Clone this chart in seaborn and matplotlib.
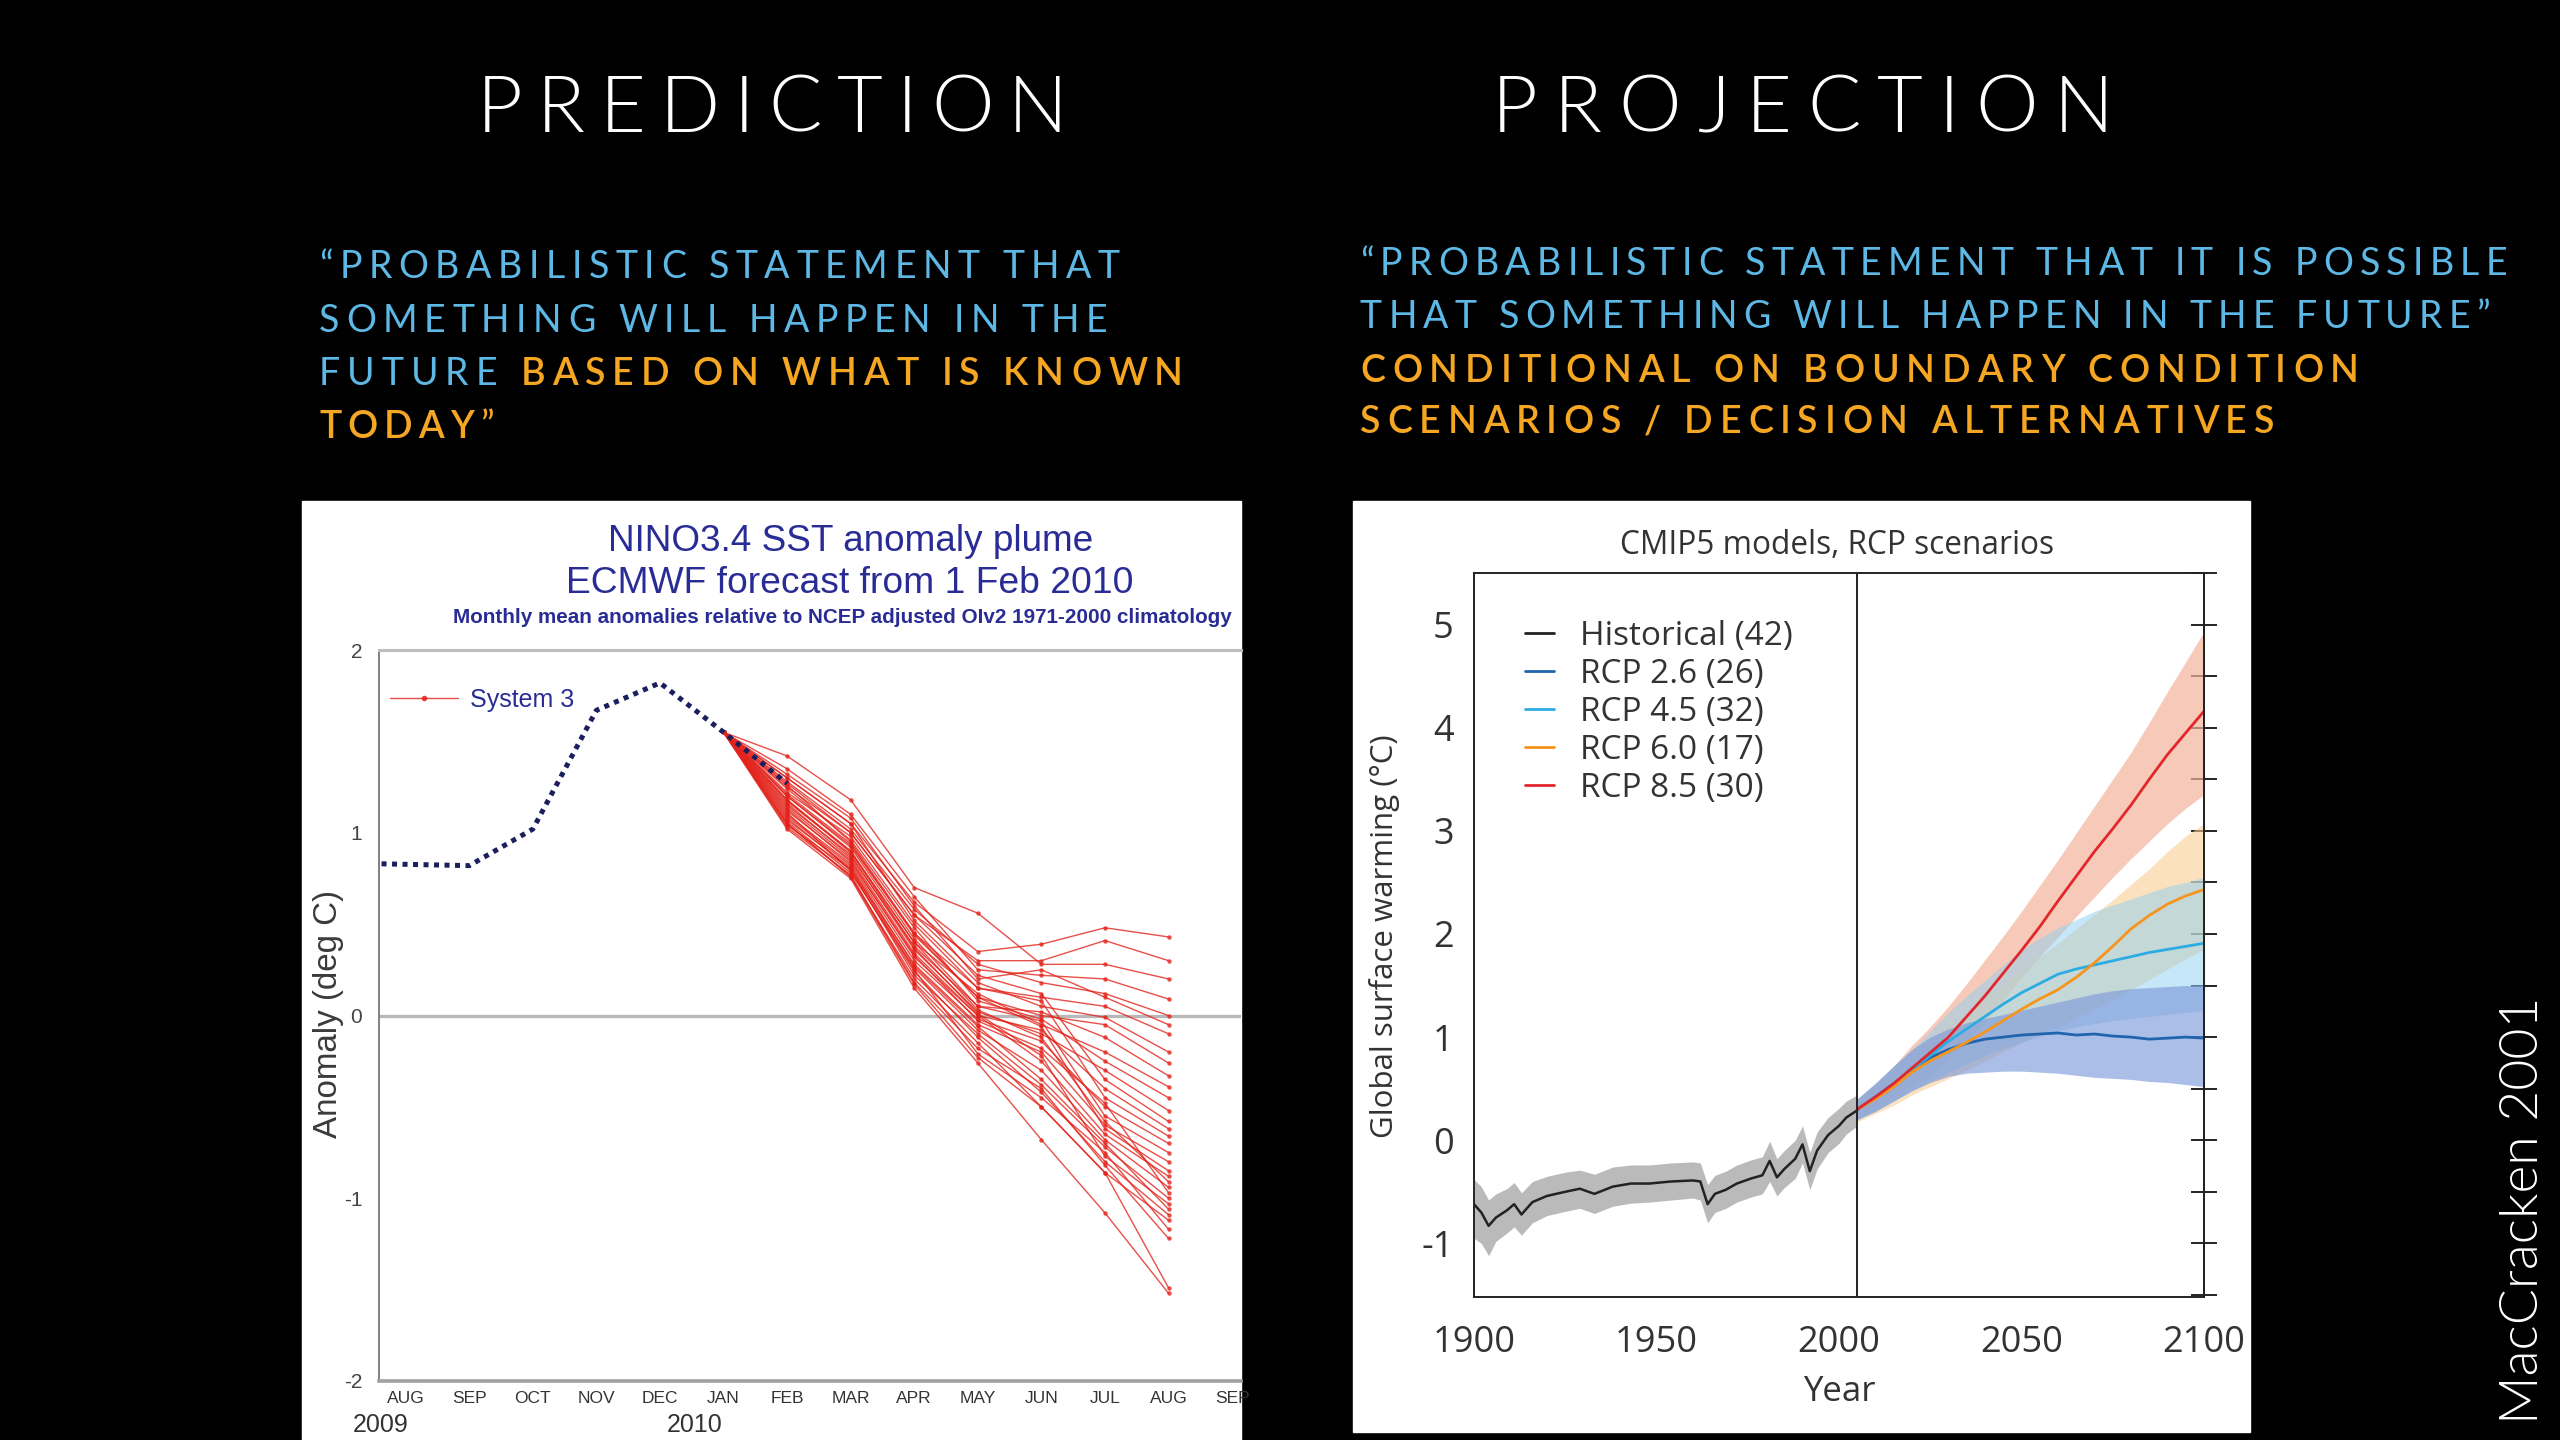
import matplotlib
matplotlib.use('Agg')
import matplotlib.pyplot as plt
from matplotlib.font_manager import FontProperties
from matplotlib.patches import Rectangle
from matplotlib.lines import Line2D
from matplotlib.ticker import MultipleLocator, FixedLocator
import seaborn as sns
import pandas as pd

sns.set_style("white")
plt.rcParams['font.family'] = ['Liberation Sans', 'DejaVu Sans']

# ---------------- data: left panel (ECMWF NINO3.4 plume) ----------------
months = ['AUG', 'SEP', 'OCT', 'NOV', 'DEC', 'JAN', 'FEB', 'MAR', 'APR',
          'MAY', 'JUN', 'JUL', 'AUG', 'SEP']
years_lab = ['2009', '2010']
years_pos = [-0.4, 4.55]

obs_month = [-0.38, 1, 2, 3, 4, 5, 6]
obs_anom = [0.83, 0.82, 1.02, 1.67, 1.82, 1.55, 1.27]

fc_month = [5, 6, 7, 8, 9, 10, 11, 12]
fc_start = 1.55
# ensemble members: FEB .. AUG 2010
members = [
    [1.30, 1.05, 0.62, 0.35, 0.39, 0.48, 0.43],
    [1.25, 1.00, 0.55, 0.30, 0.30, 0.41, 0.30],
    [1.42, 1.18, 0.70, 0.56, 0.28, 0.28, 0.20],
    [1.35, 1.10, 0.65, 0.25, 0.22, 0.20, 0.09],
    [1.28, 1.02, 0.58, 0.28, 0.18, 0.12, 0.00],
    [1.32, 1.08, 0.60, 0.20, 0.25, 0.10, -0.05],
    [1.22, 0.98, 0.50, 0.15, 0.10, 0.05, -0.10],
    [1.30, 1.05, 0.52, 0.18, 0.05, -0.01, -0.20],
    [1.26, 0.95, 0.45, 0.10, 0.00, -0.05, -0.26],
    [1.20, 0.92, 0.42, 0.05, 0.02, -0.12, -0.33],
    [1.18, 0.90, 0.40, 0.12, -0.05, -0.20, -0.39],
    [1.24, 0.96, 0.48, 0.08, -0.02, -0.25, -0.45],
    [1.15, 0.88, 0.36, 0.02, -0.10, -0.30, -0.52],
    [1.27, 1.00, 0.55, 0.22, 0.12, -0.35, -0.58],
    [1.12, 0.85, 0.32, 0.00, -0.08, -0.40, -0.62],
    [1.20, 0.93, 0.45, 0.15, 0.08, -0.45, -0.66],
    [1.10, 0.83, 0.30, -0.02, -0.14, -0.50, -0.70],
    [1.16, 0.87, 0.38, 0.05, -0.03, -0.55, -0.75],
    [1.08, 0.80, 0.28, -0.05, -0.20, -0.60, -0.80],
    [1.21, 0.94, 0.44, 0.10, -0.06, -0.62, -0.85],
    [1.14, 0.86, 0.34, 0.00, -0.25, -0.65, -0.88],
    [1.18, 0.89, 0.40, 0.03, -0.12, -0.58, -0.91],
    [1.06, 0.78, 0.26, -0.08, -0.30, -0.68, -0.94],
    [1.13, 0.84, 0.33, -0.03, -0.18, -0.48, -0.97],
    [1.04, 0.80, 0.22, -0.10, -0.38, -0.72, -1.00],
    [1.17, 0.90, 0.37, 0.01, -0.22, -0.77, -1.03],
    [1.09, 0.82, 0.27, -0.06, -0.35, -0.70, -1.06],
    [1.11, 0.79, 0.24, -0.12, -0.42, -0.80, -1.09],
    [1.05, 0.76, 0.20, -0.15, -0.50, -0.86, -1.12],
    [1.07, 0.81, 0.25, -0.21, -0.45, -0.75, -1.17],
    [1.03, 0.77, 0.18, -0.18, -0.40, -0.82, -1.22],
    [1.02, 0.75, 0.15, -0.26, -0.68, -1.08, -1.52],
    [1.05, 0.76, 0.17, -0.23, -0.50, -0.86, -1.49],
]

# ---------------- data: right panel (CMIP5 RCP) ----------------
hist_years = [1900, 1902, 1904, 1906, 1909, 1911, 1913, 1916, 1920, 1925, 1929, 1933,
              1938, 1943, 1948, 1954, 1960, 1962, 1964, 1966, 1969, 1972, 1976, 1979,
              1981, 1983, 1985, 1988, 1990, 1992, 1994, 1997, 2000, 2002, 2005]
hist_mean = [-0.62, -0.70, -0.83, -0.75, -0.68, -0.62, -0.72, -0.60, -0.54, -0.50, -0.47, -0.52,
             -0.45, -0.42, -0.42, -0.40, -0.39, -0.40, -0.62, -0.52, -0.48, -0.42, -0.37, -0.34,
             -0.20, -0.36, -0.28, -0.18, -0.04, -0.30, -0.10, 0.05, 0.14, 0.22, 0.29]
hist_lo = [-0.95, -1.00, -1.12, -0.98, -0.90, -0.84, -0.92, -0.80, -0.73, -0.69, -0.66, -0.71,
           -0.64, -0.61, -0.60, -0.58, -0.56, -0.58, -0.80, -0.70, -0.66, -0.60, -0.55, -0.52,
           -0.40, -0.54, -0.46, -0.37, -0.22, -0.48, -0.28, -0.12, -0.03, 0.06, 0.14]
hist_hi = [-0.38, -0.45, -0.58, -0.52, -0.47, -0.41, -0.51, -0.40, -0.35, -0.31, -0.29, -0.33,
           -0.26, -0.24, -0.24, -0.22, -0.21, -0.22, -0.43, -0.34, -0.30, -0.24, -0.19, -0.16,
           -0.01, -0.18, -0.10, 0.00, 0.14, -0.12, 0.08, 0.22, 0.31, 0.38, 0.44]

proj_years = [2005, 2010, 2015, 2020, 2025, 2030, 2035, 2040, 2045, 2050,
              2055, 2060, 2065, 2070, 2075, 2080, 2085, 2090, 2095, 2100]
rcp26 = [0.30, 0.42, 0.55, 0.68, 0.80, 0.88, 0.94, 0.98, 1.00, 1.02, 1.03, 1.04, 1.02, 1.03, 1.01, 1.00, 0.98, 0.99, 1.00, 0.99]
rcp26_lo = [0.20, 0.28, 0.38, 0.48, 0.56, 0.62, 0.65, 0.66, 0.67, 0.67, 0.66, 0.65, 0.63, 0.61, 0.60, 0.59, 0.57, 0.56, 0.54, 0.52]
rcp26_hi = [0.40, 0.55, 0.72, 0.88, 1.00, 1.08, 1.14, 1.18, 1.22, 1.26, 1.30, 1.34, 1.38, 1.42, 1.45, 1.47, 1.48, 1.49, 1.50, 1.50]
rcp45 = [0.30, 0.42, 0.55, 0.68, 0.82, 0.96, 1.08, 1.20, 1.32, 1.43, 1.52, 1.61, 1.66, 1.70, 1.74, 1.78, 1.82, 1.85, 1.88, 1.91]
rcp45_lo = [0.20, 0.28, 0.38, 0.48, 0.57, 0.66, 0.74, 0.82, 0.89, 0.95, 1.01, 1.06, 1.10, 1.13, 1.16, 1.18, 1.20, 1.22, 1.24, 1.26]
rcp45_hi = [0.40, 0.56, 0.72, 0.88, 1.06, 1.24, 1.40, 1.55, 1.70, 1.85, 1.96, 2.06, 2.14, 2.22, 2.28, 2.34, 2.40, 2.46, 2.50, 2.55]
rcp60 = [0.30, 0.40, 0.52, 0.66, 0.77, 0.86, 0.95, 1.05, 1.16, 1.27, 1.37, 1.46, 1.58, 1.72, 1.88, 2.05, 2.18, 2.29, 2.37, 2.43]
rcp60_lo = [0.18, 0.26, 0.34, 0.44, 0.52, 0.60, 0.68, 0.77, 0.86, 0.95, 1.03, 1.10, 1.18, 1.27, 1.36, 1.46, 1.56, 1.66, 1.76, 1.85]
rcp60_hi = [0.40, 0.54, 0.68, 0.84, 0.98, 1.11, 1.24, 1.37, 1.51, 1.65, 1.78, 1.91, 2.05, 2.19, 2.33, 2.48, 2.63, 2.80, 2.95, 3.07]
rcp85 = [0.30, 0.42, 0.55, 0.70, 0.85, 1.00, 1.20, 1.40, 1.62, 1.84, 2.07, 2.32, 2.56, 2.80, 3.02, 3.25, 3.50, 3.74, 3.95, 4.16]
rcp85_lo = [0.20, 0.30, 0.40, 0.52, 0.63, 0.80, 0.97, 1.15, 1.36, 1.58, 1.78, 1.97, 2.17, 2.36, 2.55, 2.73, 2.90, 3.07, 3.22, 3.35]
rcp85_hi = [0.40, 0.55, 0.72, 0.92, 1.10, 1.30, 1.52, 1.75, 1.98, 2.22, 2.47, 2.72, 2.98, 3.24, 3.50, 3.76, 4.05, 4.35, 4.64, 4.93]

legend_labels = ['Historical (42)', 'RCP 2.6 (26)', 'RCP 4.5 (32)', 'RCP 6.0 (17)', 'RCP 8.5 (30)']

# ---------------- figure / helpers ----------------
W, H = 2560, 1440
fig = plt.figure(figsize=(25.6, 14.4), dpi=100, facecolor='black')
renderer = fig.canvas.get_renderer()


def fprop(family, weight='normal', size=20):
    return FontProperties(family=family, weight=weight, size=size)


def text_width(s, fp):
    a = renderer.get_text_width_height_descent('|' + s + '|', fp, ismath=False)[0]
    b = renderer.get_text_width_height_descent('||', fp, ismath=False)[0]
    return a - b


def fit_size(s, fp, target):
    f = fp.copy()
    f.set_size(20)
    return 20 * target / text_width(s, f)


def tracked(x, y, segments, target):
    # draw a line of letter-spaced text made of (string, colour, font) pieces
    nat = sum(text_width(s, fp) for s, c, fp in segments)
    n = sum(len(s) for s, c, fp in segments)
    track = (target - nat) / max(n - 1, 1)
    cur = x
    for s, c, fp in segments:
        for i, ch in enumerate(s):
            cx = cur + text_width(s[:i], fp) + i * track
            fig.text(cx / W, 1 - y / H, ch, fontproperties=fp, color=c,
                     ha='left', va='baseline')
        cur += text_width(s, fp) + len(s) * track


def px_rect(x0, y0, x1, y1):
    return [x0 / W, 1 - y1 / H, (x1 - x0) / W, (y1 - y0) / H]


# ---------------- slide text ----------------
title_fp = fprop('Lato', 300, 57)
blue_fp = fprop('Lato', 'normal', 27)
bold_fp = fprop('Lato', 600, 27)
BLUE, ORANGE = '#5db8e6', '#f5a623'

tracked(477, 132, [('PREDICTION', 'white', title_fp)], 591)
tracked(1492, 132, [('PROJECTION', 'white', title_fp)], 622)

tracked(319, 278, [('“PROBABILISTIC STATEMENT THAT', BLUE, blue_fp)], 801)
tracked(319, 332, [('SOMETHING WILL HAPPEN IN THE', BLUE, blue_fp)], 788)
tracked(319, 385, [('FUTURE ', BLUE, blue_fp), ('BASED ON WHAT IS KNOWN', ORANGE, bold_fp)], 864)
tracked(319, 438, [('TODAY', ORANGE, bold_fp), ('”', ORANGE, blue_fp)], 175)

tracked(1360, 275, [('“PROBABILISTIC STATEMENT THAT IT IS POSSIBLE', BLUE, blue_fp)], 1147)
tracked(1360, 328, [('THAT SOMETHING WILL HAPPEN IN THE FUTURE”', BLUE, blue_fp)], 1130)
tracked(1360, 382, [('CONDITIONAL ON BOUNDARY CONDITION', ORANGE, bold_fp)], 999)
tracked(1360, 433, [('SCENARIOS / DECISION ALTERNATIVES', ORANGE, bold_fp)], 914)

cred_fp = fprop('Lato', 300)
cred_fp.set_size(fit_size('MacCracken 2001', cred_fp, 428))
fig.text(2524 / W, 1 - 1424 / H, 'MacCracken 2001', fontproperties=cred_fp,
         color='white', rotation=90, ha='center', va='bottom')

# white panels behind the two charts
fig.patches.append(Rectangle((302 / W, 0), (1241 - 302) / W, (1440 - 501) / H,
                             transform=fig.transFigure, facecolor='white', zorder=-2))
fig.patches.append(Rectangle((1353 / W, 1 - 1432 / H), (2250 - 1353) / W, (1432 - 501) / H,
                             transform=fig.transFigure, facecolor='white', zorder=-2))

# ---------------- left chart ----------------
NAVY = '#2a2c96'
axL = fig.add_axes(px_rect(379, 650, 1241, 1381))
axL.set_facecolor('none')
axL.set_zorder(2)

rows = []
for k, vals in enumerate(members):
    for m, v in zip(fc_month, [fc_start] + vals):
        rows.append((k, m, v))
ens = pd.DataFrame(rows, columns=['member', 'month', 'anom'])
sns.lineplot(data=ens, x='month', y='anom', units='member', estimator=None,
             color='#e3231b', lw=1.0, alpha=0.8, marker='o', markersize=3.2,
             markeredgewidth=0, legend=False, ax=axL)
sns.lineplot(x=obs_month, y=obs_anom, color='#1c1f5e', lw=3.6, ls=(0, (1, 1.1)),
             sort=False, ax=axL, zorder=5)
axL.axhline(0, color='#b8b8b8', lw=2.4, zorder=1)

axL.set_xlim(-0.42, 13.14)
axL.set_ylim(-2, 2)
axL.set_xlabel('')
axL.set_ylabel('')
axL.xaxis.set_major_locator(FixedLocator(range(len(months))))
axL.set_xticklabels(months, fontproperties=fprop('Liberation Sans', 'normal', 12.5))
axL.xaxis.set_minor_locator(FixedLocator([i + 0.5 for i in range(-1, len(months))]))
axL.tick_params(axis='x', which='major', length=0, pad=7, colors='#333333')
axL.tick_params(axis='x', which='minor', direction='in', length=4, width=1.2, color='#888888')
axL.set_yticks([-2, -1, 0, 1, 2])
axL.set_yticklabels(['-2', '-1', '0', '1', '2'], fontsize=15)
axL.yaxis.set_minor_locator(MultipleLocator(0.1))
axL.tick_params(axis='y', which='major', direction='out', length=5, width=1.2,
                color='#777777', labelcolor='#444444', pad=7)
axL.tick_params(axis='y', which='minor', direction='out', length=3, width=1, color='#888888')
for lab, pos in zip(years_lab, years_pos):
    axL.annotate(lab, xy=(pos, 0), xycoords=axL.get_xaxis_transform(),
                 xytext=(0, -32), textcoords='offset points', ha='center', va='center',
                 fontproperties=fprop('Liberation Sans', 'normal', 18),
                 color='#333333', annotation_clip=False)
axL.spines['right'].set_visible(False)
axL.spines['left'].set_color('#777777')
axL.spines['left'].set_linewidth(1.3)
axL.spines['bottom'].set_color('#a0a0a0')
axL.spines['bottom'].set_linewidth(2.6)
axL.spines['top'].set_color('#bdbdbd')
axL.spines['top'].set_linewidth(2.2)

legL = axL.legend([Line2D([0], [0], color='#e3231b', lw=1, marker='o', markersize=3, alpha=0.8)],
                  ['System 3'], loc='center left', bbox_to_anchor=(0.013, 0.932),
                  frameon=False, borderpad=0, borderaxespad=0, handlelength=2.7,
                  handletextpad=0.5, prop=fprop('Liberation Sans', 'normal', 18))
legL.get_texts()[0].set_color(NAVY)

lfp = fprop('Liberation Sans', 'normal')
lfp.set_size(fit_size('NINO3.4 SST anomaly plume', lfp, 485))
fig.text(851 / W, 1 - 551 / H, 'NINO3.4 SST anomaly plume', fontproperties=lfp,
         color=NAVY, ha='center', va='baseline')
lfp2 = fprop('Liberation Sans', 'normal')
lfp2.set_size(fit_size('ECMWF forecast from 1 Feb 2010', lfp2, 566))
fig.text(850 / W, 1 - 593 / H, 'ECMWF forecast from 1 Feb 2010', fontproperties=lfp2,
         color=NAVY, ha='center', va='baseline')
sub = 'Monthly mean anomalies relative to NCEP adjusted OIv2 1971-2000 climatology'
lfp3 = fprop('Liberation Sans', 'bold')
lfp3.set_size(fit_size(sub, lfp3, 774))
fig.text(842 / W, 1 - 623 / H, sub, fontproperties=lfp3, color=NAVY,
         ha='center', va='baseline')
yfp = fprop('Liberation Sans', 'normal')
yfp.set_size(fit_size('Anomaly (deg C)', yfp, 248))
fig.text(328 / W, 1 - 1014 / H, 'Anomaly (deg C)', fontproperties=yfp, color='#3a3a3a',
         rotation=90, ha='center', va='center')

# ---------------- right chart ----------------
C_HIST, C26, C45, C60, C85 = '#222222', '#1f64ad', '#2cace3', '#f7941d', '#e3262c'
axR = fig.add_axes(px_rect(1474, 573, 2204, 1297))
axR.set_facecolor('none')
axR.set_zorder(2)

axR.fill_between(hist_years, hist_lo, hist_hi, color='#a3a3a3', alpha=0.75, lw=0)
axR.fill_between(proj_years, rcp85_lo, rcp85_hi, color='#f4b29c', alpha=0.7, lw=0)
axR.fill_between(proj_years, rcp60_lo, rcp60_hi, color='#f9cd93', alpha=0.6, lw=0)
axR.fill_between(proj_years, rcp45_lo, rcp45_hi, color='#8fd0f0', alpha=0.5, lw=0)
axR.fill_between(proj_years, rcp26_lo, rcp26_hi, color='#7f9bdb', alpha=0.65, lw=0)

proj = pd.DataFrame({
    'year': proj_years * 4,
    'warming': rcp26 + rcp45 + rcp60 + rcp85,
    'scenario': ['RCP 2.6'] * 20 + ['RCP 4.5'] * 20 + ['RCP 6.0'] * 20 + ['RCP 8.5'] * 20,
})
sns.lineplot(data=proj, x='year', y='warming', hue='scenario', estimator=None,
             palette={'RCP 2.6': C26, 'RCP 4.5': C45, 'RCP 6.0': C60, 'RCP 8.5': C85},
             lw=2, legend=False, ax=axR)
sns.lineplot(x=hist_years, y=hist_mean, color=C_HIST, lw=1.8, ax=axR)
axR.axvline(2005, color='#222222', lw=1.4)

axR.set_xlim(1900, 2100)
axR.set_ylim(-1.52, 5.5)
rfp = 'Open Sans'
axR.set_xticks([1900, 1950, 2000, 2050, 2100])
axR.set_xticklabels(['1900', '1950', '2000', '2050', '2100'], fontproperties=fprop(rfp, 'normal', 26))
axR.set_yticks([-1, 0, 1, 2, 3, 4, 5])
axR.set_yticklabels(['-1', '0', '1', '2', '3', '4', '5'], fontproperties=fprop(rfp, 'normal', 26))
axR.xaxis.set_minor_locator(MultipleLocator(10))
axR.yaxis.set_minor_locator(MultipleLocator(0.5))
axR.tick_params(axis='x', which='both', direction='in', length=9, width=1.4,
                color='#222222', labelcolor='#333333', pad=20)
axR.tick_params(axis='y', which='both', direction='inout', length=11, width=1.4,
                color='#222222', labelcolor='#333333', pad=9)
secR = axR.secondary_yaxis('right')
secR.set_yticks([-1, 0, 1, 2, 3, 4, 5])
secR.yaxis.set_minor_locator(MultipleLocator(0.5))
secR.tick_params(axis='y', which='both', direction='inout', length=19, width=1.4,
                 color='#222222', labelright=False)
secR.spines['right'].set_color('#222222')
secR.spines['right'].set_linewidth(1.4)
for side in ['left', 'bottom', 'top', 'right']:
    axR.spines[side].set_color('#222222')
    axR.spines[side].set_linewidth(1.4)
axR.set_xlabel('Year', fontproperties=fprop(rfp, 'normal', 25), color='#333333', labelpad=10)
axR.set_ylabel('')

handles = [Line2D([0], [0], color=c, lw=2) for c in [C_HIST, C26, C45, C60, C85]]
legR = axR.legend(handles, legend_labels, loc='upper left', bbox_to_anchor=(0.07, 0.935),
                  frameon=False, borderpad=0, borderaxespad=0, handlelength=0.87,
                  handletextpad=0.78, labelspacing=0.15, prop=fprop(rfp, 'normal', 24))
for t in legR.get_texts():
    t.set_color('#333333')

tfp = fprop(rfp, 'normal')
tfp.set_size(fit_size('CMIP5 models, RCP scenarios', tfp, 433))
fig.text(1837 / W, 1 - 554 / H, 'CMIP5 models, RCP scenarios', fontproperties=tfp,
         color='#333333', ha='center', va='baseline')
gfp = fprop(rfp, 'normal')
gfp.set_size(fit_size('Global surface warming (°C)', gfp, 404))
fig.text(1384 / W, 1 - 936 / H, 'Global surface warming (°C)', fontproperties=gfp,
         color='#333333', rotation=90, ha='center', va='center')

fig.savefig('out.png', dpi=100, facecolor='black')
